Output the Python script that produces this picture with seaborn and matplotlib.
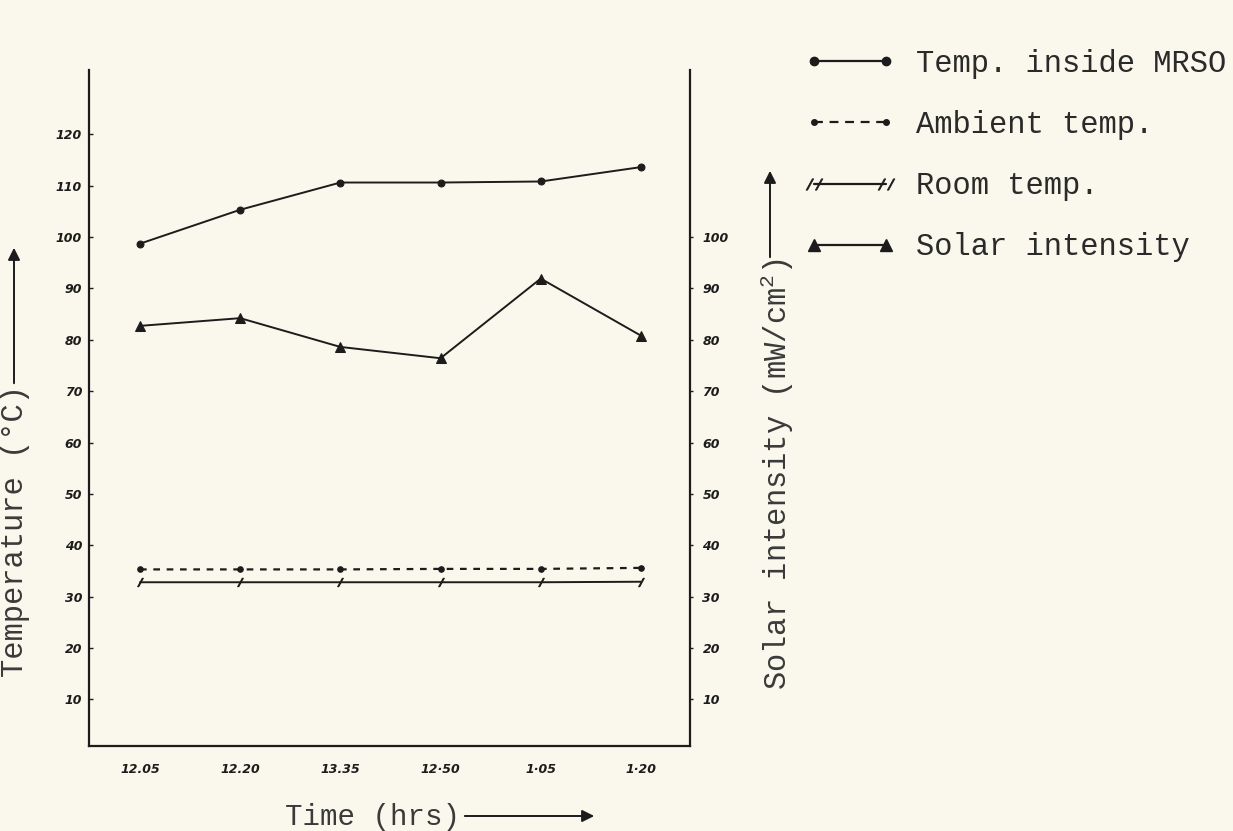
import matplotlib
matplotlib.use("Agg")
import matplotlib.pyplot as plt
import seaborn as sns
import numpy as np
import pandas as pd
from matplotlib.lines import Line2D

# ---- data ----
time_labels = ["12.05", "12.20", "13.35", "12·50", "1·05", "1·20"]
temp_inside = [98.7, 105.3, 110.6, 110.6, 110.8, 113.6]
ambient_temp = [35.3, 35.3, 35.3, 35.4, 35.4, 35.6]
room_temp = [32.8, 32.8, 32.8, 32.8, 32.8, 32.9]
solar_intensity = [82.7, 84.2, 78.6, 76.4, 91.9, 80.8]
left_ticks = [10, 20, 30, 40, 50, 60, 70, 80, 90, 100, 110, 120]
right_ticks = [10, 20, 30, 40, 50, 60, 70, 80, 90, 100]

sns.set_style("white")
BG = "#FAF8EC"
INK = "#1c1c1c"
plt.rcParams["font.family"] = ["Liberation Mono", "DejaVu Sans"]
plt.rcParams["mathtext.fontset"] = "custom"
plt.rcParams["mathtext.rm"] = "Liberation Mono"
plt.rcParams["mathtext.it"] = "Liberation Mono"

W, H = 1233, 831
fig = plt.figure(figsize=(W / 100, H / 100), dpi=100, facecolor=BG)
ax = fig.add_axes([89 / W, (H - 746) / H, (690 - 89) / W, (746 - 70) / H])
ax.set_facecolor(BG)
ax2 = ax.twinx()

x = np.arange(len(time_labels))
df = pd.DataFrame({"x": x, "inside": temp_inside, "ambient": ambient_temp,
                   "room": room_temp, "solar": solar_intensity})

sns.lineplot(data=df, x="x", y="inside", ax=ax, color=INK, lw=1.4,
             marker="o", markersize=5, markeredgecolor=INK)
sns.lineplot(data=df, x="x", y="ambient", ax=ax, color=INK, lw=1.6,
             linestyle=(0, (3, 3)), marker="o", markersize=4, markeredgecolor=INK)
sns.lineplot(data=df, x="x", y="room", ax=ax, color=INK, lw=1.4,
             marker="$/$", markersize=6, markeredgewidth=0.8,
             markeredgecolor=INK, markerfacecolor=INK)
sns.lineplot(data=df, x="x", y="solar", ax=ax2, color=INK, lw=1.4,
             marker="^", markersize=7, markeredgecolor=INK)

ylim = (0.93, 132.5)
for a in (ax, ax2):
    a.set_ylim(*ylim)
    a.set_xlim(-0.509, 5.49)
    a.set_xlabel("")
    a.set_ylabel("")
    a.grid(False)

ax.set_xticks(x)
ax.set_xticklabels(time_labels)
ax.set_yticks(left_ticks)
ax.set_yticklabels([str(v) for v in left_ticks])
ax2.set_yticks(right_ticks)
ax2.set_yticklabels([str(v) for v in right_ticks])

tick_font = dict(family="DejaVu Sans", weight="bold", style="italic", size=9)
for lab in ax.get_xticklabels() + ax.get_yticklabels() + ax2.get_yticklabels():
    lab.set_fontproperties(matplotlib.font_manager.FontProperties(**tick_font))
    lab.set_color(INK)

ax.tick_params(axis="x", direction="in", length=3, width=1, pad=12, colors=INK)
ax.tick_params(axis="y", direction="in", length=3, width=1, pad=5, colors=INK)
ax2.tick_params(axis="y", direction="out", length=2, width=1, pad=7, colors=INK)

for a in (ax, ax2):
    a.spines["top"].set_visible(False)
    for s in ("left", "right", "bottom"):
        a.spines[s].set_color(INK)
        a.spines[s].set_linewidth(1.6)
ax.spines["right"].set_visible(False)
ax2.spines["left"].set_visible(False)
ax2.spines["bottom"].set_visible(False)

# ---- legend ----
handles = [
    Line2D([], [], color=INK, lw=1.6, marker="o", markersize=6,
           markerfacecolor=INK),
    Line2D([], [], color=INK, lw=1.6, linestyle=(0, (4, 3)), marker="o",
           markersize=4),
    Line2D([], [], color=INK, lw=1.6, marker="$//$", markersize=12,
           markeredgewidth=0.6),
    Line2D([], [], color=INK, lw=1.6, marker="^", markersize=8),
]
labels = ["Temp. inside MRSO", "Ambient temp.", "Room temp.", "Solar intensity"]
leg = fig.legend(handles, labels, loc="upper left",
                 bbox_to_anchor=(805 / W, (H - 49) / H), frameon=False,
                 prop=dict(family="Liberation Mono", size=22), numpoints=2,
                 handlelength=2.95, handletextpad=0.68, labelspacing=1.02,
                 borderpad=0, borderaxespad=0)
for t in leg.get_texts():
    t.set_color("#2a2a2a")

# ---- axis titles with arrows ----
LAB = "#3a3a3a"
fig.text(15 / W, (H - 385) / H, "Temperature (°C)", rotation=90,
         ha="center", va="top", fontsize=22, color=LAB,
         family="Liberation Mono")
fig.text(777 / W, (H - 258) / H, "Solar intensity (mW/cm$^{2}$)",
         rotation=90, ha="center", va="top", fontsize=22, color=LAB,
         family="Liberation Mono")
fig.text(285 / W, (H - 817) / H, "Time (hrs)", ha="left", va="center",
         fontsize=21, color=LAB, family="Liberation Mono")

arrow = dict(arrowstyle="-|>", color=INK, lw=1.4, mutation_scale=18)
fig.add_artist(matplotlib.patches.FancyArrowPatch(
    (14 / W, (H - 386) / H), (14 / W, (H - 245) / H),
    transform=fig.transFigure, **arrow))
fig.add_artist(matplotlib.patches.FancyArrowPatch(
    (770 / W, (H - 260) / H), (770 / W, (H - 168) / H),
    transform=fig.transFigure, **arrow))
fig.add_artist(matplotlib.patches.FancyArrowPatch(
    (462 / W, (H - 816) / H), (597 / W, (H - 816) / H),
    transform=fig.transFigure, **arrow))

fig.savefig("out.png", dpi=100, facecolor=BG)
